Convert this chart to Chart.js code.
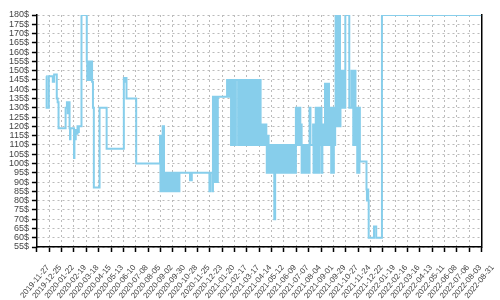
<!DOCTYPE html>
<html>
<head>
    <title>Price history</title>
    <script src="https://cdn.jsdelivr.net/npm/chart.js"></script>
    <style>
        body {
            margin: 0;
            padding: 0;
            background: #ffffff;
        }
    </style>
</head>
<body>
    <canvas id="priceChart" width="500" height="300"></canvas>
    <script>
        // x axis counts days from the first tick date
        const startDate = Date.UTC(2019, 10, 27);
        const xMaxDays = 1008;
        const xTickDays = 28;

        // y axis range and step, in dollars
        const yMin = 55;
        const yMax = 180;
        const yTickStep = 5;

        // price changes: day offset from startDate and the new price
        const dayOffsets = [
            21, 22, 27, 36, 39, 45, 47, 49, 65, 68, 70, 71, 74, 75, 76, 84, 85, 87, 88, 90, 92, 93, 95,
            101, 113, 114, 116, 118, 120, 121, 123, 125, 127, 129, 142, 158, 197, 199, 200, 203, 225,
            279, 280, 281, 282, 283, 284, 285, 286, 287, 288, 290, 291, 293, 295, 297, 299, 301, 303,
            305, 307, 309, 311, 313, 315, 317, 319, 321, 322, 323, 347, 351, 391, 393,
            398, 399, 400, 401, 403, 404, 406, 407, 409, 410,
            431, 432, 433, 434, 435, 436, 437, 438, 439, 440, 441, 442, 443, 445, 446, 447, 448, 450, 451,
            456, 458, 460, 462, 464, 466, 468, 470, 472, 474, 476, 478, 480, 482, 484, 486, 488, 490,
            492, 494, 496, 498, 500, 502, 504, 506,
            507, 509, 511, 513, 515, 517, 519, 520, 521, 523, 525, 526, 527, 529, 531, 533, 535, 536,
            538, 540, 542, 544, 546, 548, 550, 552, 554, 556, 558, 560, 562, 564, 566, 568, 570, 572,
            574, 576, 578, 580, 582, 584, 586,
            587, 589, 591, 593, 595, 597, 598, 599, 600, 602, 604, 606, 608, 610, 612, 614, 616, 618, 620,
            626, 627, 629, 631, 632, 634, 636, 638, 640, 641, 643, 645, 647, 648, 651, 653, 655, 657, 659, 661,
            662, 664, 666, 667, 669, 671, 673, 674, 676, 677, 679, 681, 683, 685, 687,
            688, 689, 691, 693, 695, 697, 699, 708, 713, 714, 716, 717, 719, 720, 721,
            722, 723, 725, 726, 728, 729, 731, 732, 747, 748, 749, 751, 752, 764, 769, 782, 1007
        ];
        const prices = [
            147, 130, 147, 144, 148, 135, 133, 119, 130, 133, 127, 133, 119, 113, 119, 103, 117, 113, 118, 116, 120, 117, 120,
            180, 155, 145, 155, 145, 155, 145, 155, 144, 130, 87, 130, 108, 146, 144, 146, 135, 100,
            115, 85, 115, 85, 115, 85, 120, 85, 120, 85, 95, 85, 95, 85, 95, 85, 95, 85,
            95, 85, 95, 85, 95, 85, 95, 85, 95, 85, 95, 91, 95, 85, 95,
            85, 136, 90, 136, 90, 136, 90, 136, 90, 136,
            145, 136, 145, 136, 145, 136, 145, 136, 145, 110, 145, 110, 145, 110, 145, 110, 145, 110, 145,
            110, 145, 110, 145, 110, 145, 110, 145, 110, 145, 110, 145, 110, 145, 110, 145, 110, 145,
            110, 145, 110, 145, 110, 145, 110, 145,
            121, 110, 121, 110, 121, 110, 121, 115, 95, 115, 95, 110, 95, 110, 95, 110, 95, 110,
            70, 110, 95, 110, 95, 110, 95, 110, 95, 110, 95, 110, 95, 110, 95, 110, 95, 110,
            95, 110, 95, 110, 95, 110, 95,
            130, 110, 130, 110, 130, 121, 110, 121, 95, 110, 95, 110, 95, 110, 95, 110, 95, 130, 110,
            121, 95, 121, 95, 130, 95, 130, 95, 130, 110, 130, 95, 121, 110, 121, 143, 110, 143, 110, 143,
            130, 110, 130, 95, 130, 95, 130, 110, 130, 180, 120, 180, 120, 180, 120,
            150, 130, 150, 130, 150, 130, 180, 130, 150, 130, 150, 110, 150, 110, 150,
            130, 110, 130, 95, 130, 95, 130, 101, 86, 80, 86, 80, 60, 66, 60, 180, 180
        ];

        const points = dayOffsets.map((d, i) => ({ x: d, y: prices[i] }));

        function dayLabel(value) {
            return new Date(startDate + value * 86400000).toISOString().slice(0, 10);
        }

        Chart.defaults.font.family = "'Liberation Sans', Arial, sans-serif";
        Chart.defaults.color = '#444';

        new Chart(document.getElementById('priceChart'), {
            type: 'line',
            data: {
                datasets: [{
                    data: points,
                    borderColor: '#87ceeb',
                    borderWidth: 2,
                    pointRadius: 0,
                    stepped: true,
                    fill: false
                }]
            },
            options: {
                responsive: false,
                animation: false,
                devicePixelRatio: 1,
                layout: {
                    padding: { top: 15, right: 16, bottom: 0, left: 1 }
                },
                plugins: {
                    legend: { display: false },
                    tooltip: { enabled: false }
                },
                scales: {
                    x: {
                        type: 'linear',
                        min: 0,
                        max: xMaxDays,
                        // labels hang below, keep the plot bottom where the original has it
                        afterFit: (axis) => { axis.height = 53; },
                        ticks: {
                            stepSize: xTickDays,
                            autoSkip: false,
                            maxRotation: 50,
                            minRotation: 50,
                            padding: 11,
                            labelOffset: 11,
                            font: { size: 8 },
                            callback: dayLabel
                        },
                        grid: {
                            color: '#bbb',
                            tickColor: '#000',
                            tickLength: 5,
                            tickWidth: 1.5
                        },
                        border: { color: '#000', width: 1.5, dash: [2, 3] }
                    },
                    y: {
                        min: yMin,
                        max: yMax,
                        ticks: {
                            stepSize: yTickStep,
                            autoSkip: false,
                            font: { size: 9 },
                            callback: (v) => v + '$'
                        },
                        grid: {
                            color: '#bbb',
                            tickColor: '#000',
                            tickLength: 5,
                            tickWidth: 1.5
                        },
                        border: { color: '#000', width: 1.5, dash: [2, 3] }
                    },
                    yRight: {
                        position: 'right',
                        ticks: { display: false },
                        grid: { drawOnChartArea: false, drawTicks: false },
                        border: { color: '#000', width: 1.5 }
                    }
                }
            }
        });
    </script>
</body>
</html>
